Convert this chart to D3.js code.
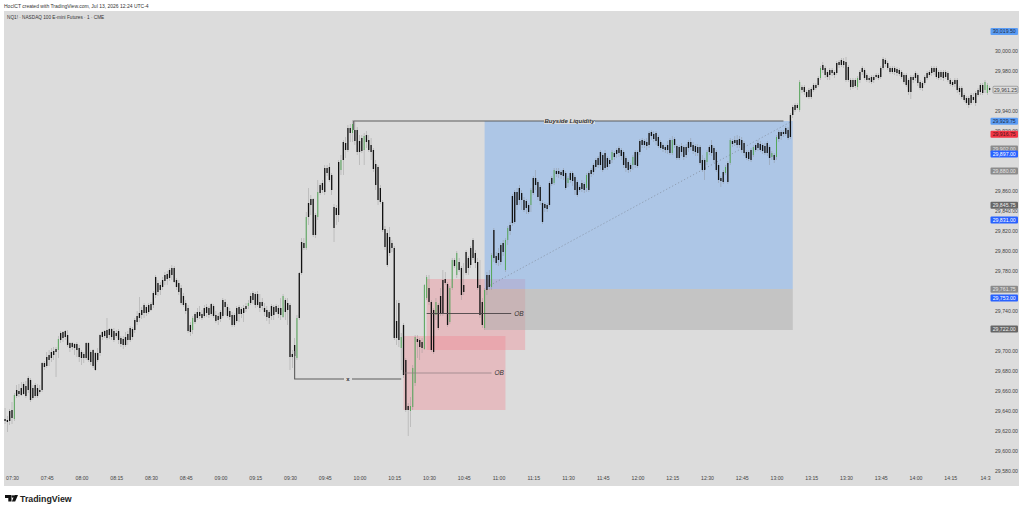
<!DOCTYPE html>
<html>
<head>
<meta charset="utf-8">
<script src="https://cdn.jsdelivr.net/npm/d3@7"></script>
<style>
  html, body { margin: 0; padding: 0; background: #fff; }
  svg { display: block; }
  text { font-family: "Liberation Sans", sans-serif; }
</style>
</head>
<body>
<svg id="svg"></svg>
<script>
// one candle per minute, first bar at 07:27
const firstMinute = -3;

const highs = [
29643,29635,29642,29649,29658,29666,29667,29669,29669,29670,
29675,29673,29666,29668,29667,29666,29689,29690,29699,29701,
29703,29704,29704,29715,29720,29720,29721,29721,29709,29709,
29708,29709,29706,29701,29699,29709,29709,29701,29702,29699,
29703,29717,29720,29721,29733,29723,29723,29723,29721,29722,
29715,29715,29719,29720,29725,29724,29733,29740,29754,29744,
29748,29746,29748,29749,29760,29776,29771,29769,29774,29779,
29780,29783,29786,29785,29773,29771,29766,29758,29751,29746,
29729,29735,29739,29743,29745,29741,29746,29747,29745,29748,
29747,29740,29738,29741,29753,29752,29747,29743,29739,29738,
29745,29746,29744,29746,29748,29751,29758,29760,29759,29760,
29757,29753,29748,29745,29741,29747,29746,29747,29746,29753,
29757,29753,29753,29748,29701,29713,29736,29779,29813,29813,
29839,29863,29856,29853,29838,29871,29868,29871,29886,29886,
29888,29878,29847,29846,29891,29896,29911,29914,29926,29927,
29931,29929,29924,29916,29916,29918,29920,29916,29913,29903,
29891,29886,29866,29851,29825,29821,29824,29811,29805,29751,
29751,29718,29728,29693,29648,29654,29686,29716,29716,29713,
29713,29767,29776,29776,29751,29743,29753,29748,29763,29781,
29779,29769,29765,29793,29793,29800,29793,29785,29788,29801,
29795,29805,29813,29801,29793,29791,29753,29763,29779,29781,
29798,29823,29799,29803,29808,29811,29813,29825,29829,29857,
29861,29863,29866,29861,29854,29852,29848,29863,29875,29881,
29871,29866,29851,29849,29848,29870,29875,29883,29883,29883,
29881,29883,29880,29875,29880,29880,29876,29871,29866,29871,
29869,29878,29880,29883,29888,29893,29895,29901,29898,29901,
29895,29893,29901,29900,29903,29905,29903,29901,29895,29891,
29888,29896,29901,29901,29912,29913,29912,29913,29920,29921,
29920,29920,29916,29911,29908,29906,29910,29913,29915,29914,
29907,29906,29908,29906,29907,29911,29913,29909,29907,29907,
29906,29896,29893,29901,29906,29911,29905,29901,29888,29875,
29881,29886,29890,29913,29912,29915,29916,29915,29914,29910,
29901,29901,29903,29906,29908,29911,29910,29908,29908,29910,
29906,29900,29898,29916,29921,29921,29921,29925,29924,29938,
29946,29948,29948,29971,29966,29966,29961,29963,29964,29968,
29968,29975,29985,29989,29985,29981,29983,29983,29981,29990,
29991,29993,29993,29994,29986,29973,29973,29973,29975,29981,
29985,29983,29978,29975,29976,29976,29978,29978,29985,29994,
29993,29990,29985,29985,29985,29984,29983,29981,29978,29978,
29973,29976,29976,29980,29978,29971,29970,29976,29980,29981,
29985,29985,29985,29981,29981,29981,29981,29980,29973,29971,
29973,29973,29965,29965,29958,29955,29955,29958,29958,29960,
29963,29968,29968,29971,29968,29965];

const lows = [
29627,29619,29626,29627,29630,29653,29654,29655,29656,29653,
29658,29649,29651,29653,29653,29657,29659,29681,29683,29685,
29689,29691,29674,29693,29708,29709,29711,29704,29699,29701,
29696,29694,29689,29686,29688,29691,29689,29686,29683,29680,
29689,29695,29711,29713,29711,29712,29711,29709,29713,29707,
29704,29702,29704,29706,29709,29711,29718,29726,29729,29732,
29733,29735,29737,29740,29743,29753,29755,29756,29761,29766,
29766,29770,29771,29768,29761,29756,29746,29744,29737,29718,
29715,29717,29727,29731,29732,29731,29733,29734,29733,29735,
29733,29728,29726,29729,29733,29736,29733,29731,29724,29724,
29728,29729,29733,29729,29739,29742,29746,29747,29743,29744,
29739,29741,29735,29730,29727,29731,29731,29737,29733,29731,
29733,29731,29726,29681,29683,29681,29691,29731,29776,29801,
29801,29826,29836,29814,29813,29831,29856,29858,29856,29875,
29869,29856,29809,29826,29829,29876,29876,29893,29899,29909,
29909,29906,29896,29886,29898,29886,29903,29899,29891,29879,
29861,29846,29847,29819,29801,29784,29795,29799,29711,29706,
29704,29681,29673,29639,29615,29624,29641,29665,29693,29691,
29698,29701,29751,29746,29699,29697,29731,29721,29735,29735,
29766,29724,29727,29761,29783,29773,29779,29751,29756,29776,
29776,29783,29791,29783,29761,29733,29723,29721,29756,29761,
29761,29789,29786,29785,29786,29795,29779,29806,29816,29825,
29827,29841,29846,29841,29839,29837,29837,29839,29856,29861,
29851,29846,29827,29839,29839,29844,29865,29866,29874,29873,
29872,29871,29861,29864,29868,29865,29856,29854,29859,29859,
29858,29859,29859,29874,29876,29881,29883,29881,29879,29881,
29881,29884,29888,29891,29893,29894,29891,29883,29879,29878,
29879,29881,29883,29883,29896,29903,29903,29901,29903,29911,
29909,29906,29903,29901,29899,29898,29897,29896,29896,29903,
29891,29891,29895,29891,29893,29899,29901,29897,29895,29895,
29886,29879,29871,29886,29896,29895,29888,29879,29868,29864,
29867,29876,29867,29886,29904,29905,29903,29903,29898,29895,
29891,29890,29889,29894,29899,29900,29899,29897,29896,29895,
29886,29891,29888,29891,29909,29911,29914,29915,29911,29912,
29933,29939,29941,29939,29958,29956,29953,29952,29952,29959,
29961,29964,29971,29978,29973,29971,29971,29975,29973,29976,
29983,29984,29983,29969,29969,29961,29962,29963,29961,29968,
29976,29971,29969,29968,29967,29968,29972,29971,29972,29981,
29984,29981,29977,29977,29976,29975,29975,29972,29967,29964,
29956,29952,29968,29970,29965,29961,29960,29966,29971,29974,
29975,29976,29972,29971,29971,29970,29972,29969,29965,29964,
29964,29958,29956,29952,29949,29946,29943,29946,29948,29945,
29954,29956,29956,29958,29956,29959];

// top and bottom of each candle body (open/close, whichever way round)
const bodyHighs = [
29632,29631,29640,29641,29656,29661,29660,29663,29667,29665,
29673,29671,29663,29666,29663,29661,29688,29688,29694,29696,
29699,29700,29702,29712,29718,29719,29720,29716,29708,29708,
29707,29707,29703,29699,29697,29708,29708,29699,29701,29698,
29698,29716,29719,29720,29721,29722,29722,29720,29718,29720,
29713,29712,29714,29717,29723,29722,29731,29735,29738,29741,
29746,29744,29746,29747,29758,29774,29768,29766,29771,29776,
29777,29781,29783,29783,29771,29768,29763,29755,29748,29743,
29726,29733,29737,29739,29739,29737,29743,29744,29743,29747,
29745,29736,29735,29739,29751,29749,29744,29740,29736,29736,
29743,29744,29742,29743,29745,29748,29755,29758,29757,29757,
29749,29749,29743,29741,29739,29745,29744,29745,29743,29743,
29755,29751,29748,29746,29697,29706,29733,29778,29809,29808,
29834,29848,29852,29852,29836,29859,29866,29868,29883,29883,
29884,29876,29844,29843,29889,29891,29909,29908,29923,29923,
29927,29921,29921,29910,29913,29915,29916,29911,29906,29901,
29887,29884,29863,29849,29822,29818,29814,29808,29803,29730,
29748,29714,29726,29691,29645,29645,29683,29714,29712,29711,
29709,29766,29774,29763,29749,29741,29749,29746,29755,29771,
29772,29767,29763,29791,29791,29798,29789,29783,29766,29799,
29793,29803,29811,29798,29789,29766,29749,29761,29776,29776,
29796,29821,29795,29798,29806,29808,29811,29823,29826,29855,
29859,29859,29863,29858,29851,29850,29846,29861,29873,29873,
29869,29864,29848,29847,29846,29868,29873,29881,29880,29880,
29879,29881,29878,29873,29878,29878,29874,29869,29864,29868,
29867,29876,29878,29881,29886,29891,29893,29899,29896,29898,
29893,29891,29899,29898,29901,29903,29901,29899,29893,29889,
29886,29894,29899,29899,29910,29911,29910,29909,29918,29919,
29917,29918,29914,29909,29906,29904,29906,29911,29911,29912,
29905,29904,29905,29904,29904,29909,29909,29906,29905,29904,
29904,29891,29891,29899,29904,29906,29903,29899,29886,29873,
29879,29884,29888,29911,29910,29911,29911,29912,29911,29908,
29899,29899,29901,29904,29906,29908,29907,29906,29905,29908,
29904,29898,29896,29914,29919,29919,29919,29923,29921,29936,
29944,29946,29946,29969,29964,29964,29959,29961,29962,29966,
29966,29973,29983,29986,29983,29979,29981,29981,29979,29988,
29989,29991,29990,29989,29984,29971,29971,29971,29973,29979,
29983,29981,29976,29973,29974,29974,29976,29976,29983,29992,
29991,29988,29983,29983,29983,29982,29981,29979,29976,29976,
29971,29974,29974,29978,29976,29969,29968,29974,29978,29979,
29983,29983,29983,29979,29979,29979,29979,29978,29971,29969,
29971,29971,29963,29963,29956,29953,29953,29956,29954,29958,
29961,29966,29966,29969,29966,29963];

const bodyLows = [
29630,29629,29630,29633,29632,29655,29657,29656,29657,29655,
29661,29651,29653,29655,29655,29659,29661,29684,29685,29691,
29693,29696,29699,29701,29711,29713,29714,29706,29703,29704,
29703,29701,29694,29693,29693,29693,29691,29689,29685,29681,
29691,29698,29714,29715,29713,29716,29714,29711,29715,29711,
29707,29706,29706,29711,29711,29714,29721,29729,29733,29736,
29738,29738,29739,29741,29746,29756,29759,29761,29764,29770,
29772,29773,29776,29769,29764,29759,29748,29746,29740,29720,
29719,29721,29729,29733,29735,29733,29735,29738,29736,29737,
29735,29730,29731,29732,29735,29744,29735,29734,29726,29726,
29730,29737,29737,29738,29742,29745,29748,29751,29746,29746,
29743,29745,29739,29734,29733,29735,29736,29739,29737,29736,
29734,29739,29741,29694,29694,29695,29693,29733,29778,29803,
29803,29834,29846,29816,29816,29834,29858,29861,29859,29878,
29871,29861,29823,29836,29836,29881,29891,29901,29901,29918,
29918,29910,29899,29899,29900,29901,29909,29901,29899,29882,
29866,29851,29849,29821,29804,29786,29798,29803,29713,29713,
29711,29703,29676,29641,29641,29640,29644,29668,29709,29704,
29703,29702,29753,29749,29701,29699,29736,29723,29738,29738,
29768,29726,29729,29763,29785,29776,29781,29756,29759,29778,
29783,29786,29793,29788,29763,29736,29726,29723,29761,29764,
29764,29793,29788,29791,29789,29799,29781,29811,29820,29828,
29829,29846,29851,29851,29841,29843,29839,29846,29858,29866,
29854,29850,29829,29843,29842,29846,29867,29868,29877,29877,
29876,29875,29863,29868,29871,29870,29861,29856,29861,29862,
29861,29863,29861,29877,29879,29884,29886,29886,29881,29883,
29884,29887,29891,29894,29897,29898,29895,29886,29883,29881,
29882,29886,29886,29885,29899,29906,29906,29905,29906,29915,
29912,29910,29905,29903,29902,29901,29901,29898,29898,29906,
29893,29893,29899,29894,29896,29903,29904,29900,29899,29898,
29888,29881,29881,29889,29899,29898,29891,29881,29871,29870,
29869,29878,29869,29888,29907,29908,29906,29906,29901,29898,
29893,29892,29891,29896,29901,29903,29901,29900,29898,29898,
29893,29894,29891,29894,29912,29915,29917,29917,29913,29914,
29936,29941,29943,29941,29961,29959,29954,29954,29954,29961,
29963,29966,29973,29981,29976,29974,29976,29978,29976,29978,
29986,29986,29986,29971,29971,29964,29964,29965,29964,29971,
29979,29973,29971,29971,29969,29971,29974,29973,29974,29983,
29987,29983,29979,29979,29979,29978,29977,29974,29969,29966,
29959,29959,29971,29973,29968,29963,29963,29968,29973,29976,
29978,29979,29974,29973,29974,29973,29974,29971,29967,29966,
29967,29961,29959,29954,29951,29948,29946,29948,29951,29948,
29956,29959,29958,29961,29958,29961];

// bars that are drawn green
const upBars = [4,23,81,105,120,126,130,135,145,150,155,171,175,176,177,181,182,186,192,193,195,207,210,216,217,227,237,243,251,262,271,288,303,311,313,323,331,333,343,352,368,423,424];

const timeLabels = ["07:30","07:45","08:00","08:15","08:30","08:45","09:00","09:15","09:30","09:45","10:00","10:15","10:30","10:45","11:00","11:15","11:30","11:45","12:00","12:15","12:30","12:45","13:00","13:15","13:30","13:45","14:00","14:15","14:3"];
const priceTicks = [30000,29980,29940,29920,29860,29840,29820,29800,29780,29740,29700,29680,29660,29640,29620,29600,29580];

// price labels on the right: price, style
const badgePrices = [30019.5,29929.75,29916.75,29902,29897,29880,29845.75,29831,29761.75,29753,29722];
const badgeKinds = ["sky","sky","red","grey","blue","grey","dark","blue","grey","blue","dark"];
const lastPrice = 29961.25;

// zones and levels, in minutes since 07:30 and price
const buysideLevel = 29930;
const sellsideLevel = 29672;
const buysideStart = 147.5, buysideEnd = 333;
const sellsideStart = 122, sellsideEnd = 168;
const blueZone = [204, 337, 29930, 29762];
const greyZone = [204, 337, 29762, 29721];
const pinkZoneA = [179, 221.5, 29772, 29701];
const pinkZoneB = [169, 213, 29715, 29641];
const obLineA = [179, 215.5, 29737.5];
const obLineB = [169, 207, 29678];
const targetLine = [205, 29764, 336, 29929];

const width = 1024, height = 510;
const svg = d3.select("#svg").attr("width", width).attr("height", height);

const x = d3.scaleLinear().domain([0, 420]).range([12, 985]);
const y = d3.scaleLinear().domain([29580, 30000]).range([471, 51]);
const tickFmt = d3.format(",.2f");

// background
svg.append("rect").attr("x", 4).attr("y", 11).attr("width", 1015).attr("height", 475).attr("fill", "#dcdcdc");

// zones
const zone = (z, fill, alpha) => svg.append("rect")
  .attr("x", x(z[0])).attr("width", x(z[1]) - x(z[0]))
  .attr("y", y(z[2])).attr("height", y(z[3]) - y(z[2]))
  .attr("fill", fill).attr("fill-opacity", alpha);
zone(pinkZoneA, "#f3808c", .35);
zone(pinkZoneB, "#f3808c", .35);
zone(blueZone, "#7eb0f0", .5);
zone(greyZone, "#acacac", .5);

// dotted target line
svg.append("line")
  .attr("x1", x(targetLine[0])).attr("y1", y(targetLine[1]))
  .attr("x2", x(targetLine[2])).attr("y2", y(targetLine[3]))
  .attr("stroke", "#808a98").attr("stroke-width", .7).attr("stroke-dasharray", "1.2 2.2");

// candles
const candles = highs.map((h, i) => ({
  m: firstMinute + i, high: h, low: lows[i],
  top: bodyHighs[i], bottom: bodyLows[i], up: upBars.includes(i)
}));
const bars = svg.append("g").selectAll("g").data(candles).enter().append("g");
bars.append("rect")
  .attr("x", d => x(d.m) - .3).attr("width", .6)
  .attr("y", d => y(d.high)).attr("height", d => y(d.low) - y(d.high))
  .attr("fill", "#888").attr("fill-opacity", .6);
bars.append("rect")
  .attr("x", d => x(d.m) - (d.up ? .5 : .65)).attr("width", d => d.up ? 1 : 1.3)
  .attr("y", d => y(d.top)).attr("height", d => Math.max(.8, y(d.bottom) - y(d.top)))
  .attr("fill", d => d.up ? "#56a85a" : "#111");

// buyside and sellside levels
const lineColor = "#5c5c5c";
svg.append("path")
  .attr("d", `M${x(buysideStart)},${y(buysideLevel) + 9}V${y(buysideLevel)}H${x(buysideEnd)}`)
  .attr("fill", "none").attr("stroke", lineColor).attr("stroke-width", 1.1);
svg.append("rect").attr("x", 544).attr("y", 116).attr("width", 51).attr("height", 8).attr("fill", "#dcdcdc");
svg.append("text").attr("x", 569.5).attr("y", y(buysideLevel) + 2)
  .attr("text-anchor", "middle").attr("font-size", 6).attr("font-weight", "bold").attr("font-style", "italic")
  .attr("fill", "#333").text("Buyside Liquidity");
svg.append("path")
  .attr("d", `M${x(sellsideStart)},${y(sellsideLevel) - 28}V${y(sellsideLevel)}H${x(sellsideEnd)}`)
  .attr("fill", "none").attr("stroke", lineColor).attr("stroke-width", 1.1);
svg.append("rect").attr("x", 344).attr("y", 376).attr("width", 8).attr("height", 6).attr("fill", "#dcdcdc");
svg.append("text").attr("x", 348).attr("y", y(sellsideLevel) + 2)
  .attr("text-anchor", "middle").attr("font-size", 6).attr("font-weight", "bold").attr("fill", "#333").text("x");

// order block lines
[[obLineA, "#4a4446", .9], [obLineB, "#8c7b7e", .7]].forEach(([l, c, w]) => {
  svg.append("line")
    .attr("x1", x(l[0])).attr("x2", x(l[1])).attr("y1", y(l[2])).attr("y2", y(l[2]))
    .attr("stroke", c).attr("stroke-width", w);
  svg.append("text").attr("x", x(l[1]) + 3).attr("y", y(l[2]) + 2.2)
    .attr("font-size", 6.5).attr("font-style", "italic").attr("fill", "#333").text("OB");
});

// time axis
const timeAxis = svg.append("g").attr("transform", "translate(0,476)")
  .call(d3.axisBottom(x)
    .tickValues(timeLabels.map((t, i) => i * 15))
    .tickFormat((t, i) => timeLabels[i])
    .tickSize(0).tickPadding(0));
timeAxis.select(".domain").remove();
timeAxis.selectAll("text").attr("font-family", "Liberation Sans").attr("font-size", 5.2).attr("fill", "#444");

// price axis
const priceAxis = svg.append("g").attr("transform", "translate(1018,0)")
  .call(d3.axisRight(y).tickValues(priceTicks).tickFormat(tickFmt).tickSize(0).tickPadding(0));
priceAxis.select(".domain").remove();
priceAxis.selectAll("text").attr("text-anchor", "end").attr("font-family", "Liberation Sans").attr("font-size", 5.2).attr("fill", "#444");

// current price box
svg.append("rect").attr("x", 993).attr("y", y(lastPrice) - 3.5).attr("width", 25).attr("height", 7)
  .attr("fill", "#dcdcdc").attr("stroke", "#666").attr("stroke-width", .5).attr("rx", 1);
svg.append("text").attr("x", 1005.5).attr("y", y(lastPrice) + 1.8).attr("text-anchor", "middle")
  .attr("font-size", 5.2).attr("fill", "#444").text(tickFmt(lastPrice));

// price badges
const badgeFill = { sky: "#5b9df5", red: "#f23645", grey: "#8b8b8b", blue: "#2962ff", dark: "#666666" };
const badgeText = { sky: "#1c2a44", red: "#4a1318", grey: "#e6e6e6", blue: "#ffffff", dark: "#eeeeee" };
badgePrices.forEach((p, i) => {
  svg.append("rect").attr("x", 990.5).attr("y", y(p) - 3.5).attr("width", 27.5).attr("height", 7)
    .attr("fill", badgeFill[badgeKinds[i]]).attr("rx", 1);
  svg.append("text").attr("x", 1004.2).attr("y", y(p) + 1.8).attr("text-anchor", "middle")
    .attr("font-size", 5.2).attr("fill", badgeText[badgeKinds[i]]).text(tickFmt(p));
});

// header
svg.append("text").attr("x", 4).attr("y", 7.6).attr("font-size", 5).attr("fill", "#333")
  .text("HocICT created with TradingView.com, Jul 13, 2026 12:24 UTC-4");
svg.append("text").attr("x", 7).attr("y", 19).attr("font-size", 4.7).attr("fill", "#333")
  .text("NQ1! · NASDAQ 100 E-mini Futures · 1 · CME");

// footer logo
svg.append("path").attr("d", "M5,495H11.5V501.5H8.3V498H5Z M14.5,495H18L15.2,501.5H11.9Z").attr("fill", "#111");
svg.append("circle").attr("cx", 13).attr("cy", 496.5).attr("r", 1.3).attr("fill", "#111");
svg.append("text").attr("x", 20).attr("y", 502).attr("font-size", 8.8).attr("font-weight", "bold")
  .attr("fill", "#222").text("TradingView");
</script>
</body>
</html>
